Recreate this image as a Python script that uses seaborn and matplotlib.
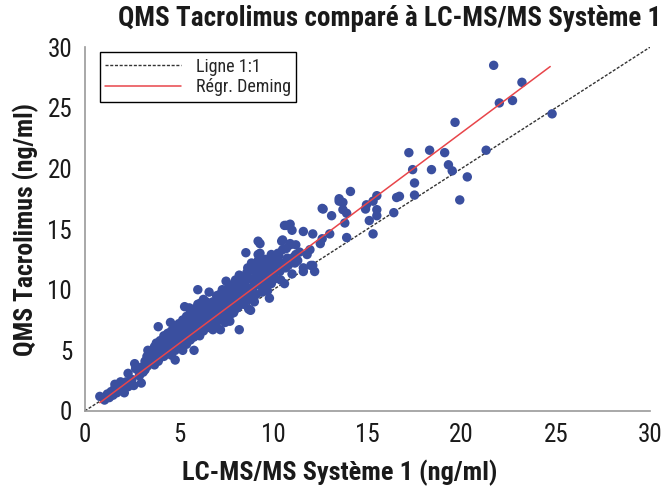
import matplotlib
matplotlib.use("Agg")
import matplotlib.pyplot as plt
from matplotlib import font_manager
import seaborn as sns
import pandas as pd

# ---------------- data ----------------
lcms = [
    0.8, 1.05, 1.2, 1.3, 1.4, 1.5, 1.6, 1.7, 1.8, 1.9, 2.0, 2.1, 2.2, 2.3, 2.4, 1.6, 1.9, 2.1, 2.5, 2.6,
    2.3, 2.7, 2.8, 3.0, 2.65, 2.9, 3.0,
    3.1, 3.2, 3.3, 3.35, 3.4, 3.5, 3.5, 3.6, 3.7, 3.7, 3.8, 3.8, 3.9, 3.9, 3.95, 4.0, 4.0, 3.3, 3.6, 3.2,
    4.1, 4.1, 4.2, 4.2, 4.3, 4.3, 4.4, 4.4, 4.5, 4.5, 4.6, 4.6, 4.7, 4.7, 4.8, 4.8, 4.8, 4.9, 4.9, 5.0,
    5.0, 5.0, 4.4, 4.6, 4.75, 4.15, 4.55, 4.95,
    5.1, 5.1, 5.2, 5.2, 5.3, 5.3, 5.35, 5.4, 5.4, 5.5, 5.5, 5.6, 5.6, 5.7, 5.7, 5.8, 5.8, 5.8, 5.9, 5.9,
    6.0, 6.0, 6.0, 5.25, 5.45, 5.55, 5.65, 5.75, 5.95, 5.15, 5.85,
    6.1, 6.1, 6.2, 6.2, 6.3, 6.3, 6.4, 6.4, 6.5, 6.5, 6.6, 6.6, 6.7, 6.7, 6.8, 6.8, 6.9, 6.9, 7.0, 7.0,
    6.15, 6.35, 6.45, 6.55, 6.75, 6.85, 6.25, 6.95, 6.65, 6.05,
    7.1, 7.1, 7.2, 7.2, 7.3, 7.3, 7.4, 7.4, 7.5, 7.5, 7.6, 7.6, 7.7, 7.7, 7.8, 7.8, 7.9, 7.9, 8.0, 8.0,
    7.15, 7.35, 7.45, 7.55, 7.65, 7.75, 7.85, 7.95, 7.25, 7.05,
    8.1, 8.1, 8.2, 8.2, 8.3, 8.3, 8.4, 8.4, 8.5, 8.5, 8.55, 8.6, 8.6, 8.7, 8.7, 8.8, 8.8, 8.9, 8.9, 9.0,
    9.0, 8.15, 8.35, 8.45, 8.65, 8.75, 8.95, 8.25, 8.85,
    9.1, 9.1, 9.2, 9.2, 9.2, 9.25, 9.3, 9.3, 9.3, 9.4, 9.4, 9.5, 9.5, 9.6, 9.6, 9.7, 9.7, 9.8, 9.8, 9.9,
    9.9, 9.9, 10.0, 10.0, 9.15, 9.35, 9.45, 9.55, 9.75, 9.85,
    10.1, 10.1, 10.2, 10.3, 10.35, 10.4, 10.45, 10.5, 10.5, 10.5, 10.6, 10.6, 10.7, 10.7, 10.8, 10.9,
    10.9, 10.9, 11.0, 11.0, 10.25, 10.65, 10.15, 10.75,
    11.1, 11.15, 11.2, 11.2, 11.6, 11.6, 11.6, 11.8, 11.95, 12.0, 12.1, 12.1, 12.2, 12.5, 12.6, 12.6,
    12.65, 13.0, 13.1, 11.4, 11.3,
    13.5, 13.5, 13.7, 13.7, 13.8, 13.9, 13.9, 14.1, 14.9, 14.95, 15.1, 15.3, 15.3, 15.5, 15.5, 15.5,
    16.4, 16.55, 16.7,
    17.2, 17.4, 17.5, 17.5, 18.3, 18.4, 19.1, 19.3, 19.5, 20.3, 19.9, 19.65, 21.3, 21.7, 22.0, 22.7,
    23.2, 24.8,
]
qms = [
    1.2, 0.9, 1.4, 1.1, 1.6, 1.3, 1.9, 1.5, 2.1, 1.7, 2.2, 1.9, 2.4, 2.0, 2.3, 2.2, 2.4, 1.5, 2.6, 2.1,
    3.1, 3.5, 3.4, 2.3, 3.9, 2.9, 3.6,
    3.2, 4.1, 3.7, 5.0, 4.4, 3.9, 4.7, 4.2, 5.3, 3.8, 4.6, 5.6, 4.1, 6.95, 5.0, 4.4, 5.8, 4.5, 5.0, 3.4,
    4.9, 5.4, 4.5, 6.2, 5.1, 5.7, 4.8, 6.4, 5.3, 5.9, 4.6, 6.6, 5.5, 6.1, 4.2, 5.0, 7.0, 5.7, 6.4, 5.2,
    6.0, 7.2, 5.5, 5.1, 6.8, 5.9, 7.3, 6.7,
    5.6, 6.6, 5.0, 7.5, 6.2, 8.6, 6.9, 5.5, 7.8, 6.4, 7.1, 5.85, 8.1, 6.7, 7.4, 5.0, 6.1, 8.4, 7.0, 7.7,
    6.5, 10.0, 8.8, 6.6, 6.0, 8.5, 7.0, 6.4, 8.1, 7.1, 7.3,
    6.2, 7.6, 7.0, 8.3, 6.6, 9.2, 7.4, 8.0, 6.9, 8.6, 9.8, 7.7, 7.2, 8.3, 6.7, 9.0, 7.9, 8.6, 7.3, 9.5,
    8.9, 7.8, 9.0, 8.1, 7.6, 8.2, 7.2, 6.9, 8.8, 7.3,
    8.0, 8.7, 6.7, 9.1, 7.6, 10.0, 8.3, 9.4, 10.7, 7.9, 8.8, 9.8, 7.4, 9.2, 8.5, 10.3, 8.1, 9.6, 9.0, 10.8,
    9.6, 8.9, 7.3, 9.3, 10.4, 8.0, 9.0, 10.0, 8.4, 7.8,
    8.5, 9.9, 6.7, 11.2, 9.3, 10.4, 8.8, 11.0, 9.7, 10.6, 13.05, 9.1, 11.4, 10.1, 8.4, 8.3, 10.9, 9.6, 11.6, 10.3,
    9.0, 10.5, 9.9, 10.2, 11.8, 9.4, 10.7, 9.0, 12.2,
    9.6, 11.0, 12.4, 12.9, 14.0, 10.4, 13.0, 11.5, 13.8, 9.8, 10.8, 11.9, 10.2, 11.3, 12.5, 9.9, 10.7, 11.35, 9.3, 12.9,
    12.4, 10.5, 11.8, 11.0, 12.0, 12.2, 11.6, 10.9, 12.0, 11.9,
    10.9, 12.3, 11.6, 12.8, 11.5, 10.8, 14.0, 13.3, 12.2, 14.1, 10.5, 15.3, 13.4, 15.3, 12.0, 13.7,
    15.4, 13.8, 14.9, 11.3, 13.0, 11.8, 11.9, 12.6,
    12.7, 12.2, 12.9, 13.7, 14.8, 11.5, 11.8, 12.9, 13.3, 12.0, 14.6, 12.0, 11.5, 13.8, 14.2, 16.7,
    16.65, 14.6, 16.1, 13.1, 12.4,
    17.5, 17.3, 17.2, 16.6, 15.5, 16.3, 14.3, 18.1, 16.65, 17.0, 15.7, 17.3, 14.6, 17.75, 16.6, 16.1,
    16.35, 17.6, 17.7,
    21.3, 19.9, 18.8, 17.8, 21.5, 19.9, 21.3, 20.3, 19.8, 19.3, 17.4, 23.8, 21.5, 28.5, 25.4, 25.6,
    27.1, 24.5,
]
identity_x = [0, 30]
identity_y = [0, 30]
deming_x = [0.8, 24.7]
deming_y = [0.68, 28.4]
x_ticks = [0, 5, 10, 15, 20, 25, 30]
y_ticks = [0, 5, 10, 15, 20, 25, 30]

title = "QMS Tacrolimus comparé à LC-MS/MS Système 1"
xlabel = "LC-MS/MS Système 1 (ng/ml)"
ylabel = "QMS Tacrolimus (ng/ml)"

df = pd.DataFrame({"lcms": lcms, "qms": qms})

# ---------------- style ----------------
sns.set_style("white")
available = {f.name for f in font_manager.fontManager.ttflist}
fam = None
for cand in ["Liberation Sans Narrow", "DejaVu Sans Condensed", "Roboto Condensed", "Liberation Sans"]:
    if cand in available:
        fam = cand
        break
plt.rcParams["font.family"] = [fam, "DejaVu Sans"] if fam else ["DejaVu Sans"]

fig = plt.figure(figsize=(6.62, 4.91), dpi=100)
ax = fig.add_axes([0.128, 0.163, 0.854, 0.741])

ax.plot(identity_x, identity_y, linestyle=(0, (2.2, 1.2)), color="#333333", lw=1.0,
        label="Ligne 1:1", zorder=1)
sns.scatterplot(data=df, x="lcms", y="qms", ax=ax, color="#3a4f9f", s=46,
                edgecolor="none", linewidth=0, zorder=2, legend=False)
ax.plot(deming_x, deming_y, color="#e8454a", lw=1.1, label="Régr. Deming", zorder=3)

ax.set_xlim(0, 30)
ax.set_ylim(0, 30)
ax.set_xticks(x_ticks)
ax.set_yticks(y_ticks)
ax.tick_params(axis="both", direction="inout", length=10, width=1, color="#999999",
               labelsize=18, pad=4, labelcolor="#1a1a1a")
for s in ["top", "right"]:
    ax.spines[s].set_visible(False)
for s in ["left", "bottom"]:
    ax.spines[s].set_color("#999999")
    ax.spines[s].set_linewidth(1.2)

ax.set_xlabel(xlabel, fontsize=19, fontweight="bold", color="#1a1a1a")
ax.xaxis.set_label_coords(0.451, -0.135)
ax.set_ylabel(ylabel, fontsize=18.5, fontweight="bold", labelpad=6, color="#1a1a1a")

leg = ax.legend(loc="upper left", bbox_to_anchor=(0.027, 0.986), borderaxespad=0,
                fontsize=13, frameon=True, fancybox=False, framealpha=1,
                edgecolor="black", handlelength=4.2, borderpad=0.3, labelspacing=0.15)
leg.get_frame().set_linewidth(1.0)

fig.text(0.999, 0.962, title, ha="right", va="center", fontsize=19.5, fontweight="bold",
         color="#1a1a1a")

fig.savefig("out.png", dpi=100)
